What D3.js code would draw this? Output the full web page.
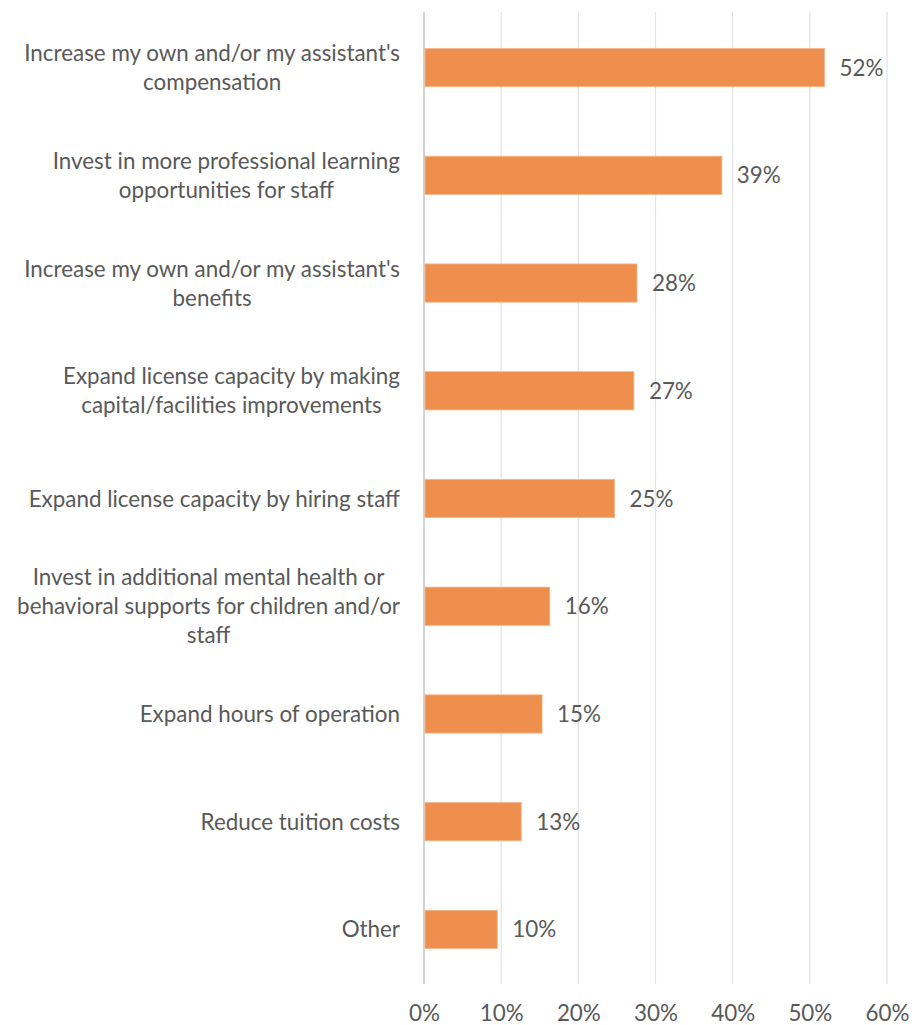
<!DOCTYPE html>
<html>
<head>
<meta charset="utf-8">
<script src="https://cdn.jsdelivr.net/npm/d3@7"></script>
<style>
  html, body { margin: 0; padding: 0; background: #fff; }
  svg { display: block; }
  text { font-family: Lato, "Open Sans", sans-serif; fill: #595959; }
</style>
</head>
<body>
<svg id="chart" width="924" height="1025"></svg>
<script>
// Survey answers: how funds would be used (share of respondents)
const categories = [
  ["Increase my own and/or my assistant's", "compensation"],
  ["Invest in more professional learning", "opportunities for staff"],
  ["Increase my own and/or my assistant's", "benefits"],
  ["Expand license capacity by making", "capital/facilities improvements"],
  ["Expand license capacity by hiring staff"],
  ["Invest in additional mental health or", "behavioral supports for children and/or", "staff"],
  ["Expand hours of operation"],
  ["Reduce tuition costs"],
  ["Other"]
];
const values = [0.519, 0.386, 0.276, 0.272, 0.247, 0.163, 0.153, 0.126, 0.095];
const tickValues = [0, 0.1, 0.2, 0.3, 0.4, 0.5, 0.6];

const fontSize = 22.4;
const svg = d3.select("#chart");
const margin = { left: 424, right: 37, top: 14, bottom: 42 };
const W = 924, H = 1025;

const x = d3.scaleLinear().domain([0, 0.6]).range([margin.left, W - margin.right]);
const y = d3.scaleBand()
  .domain(d3.range(categories.length))
  .range([margin.top, H - margin.bottom])
  .paddingInner(0.645)
  .paddingOuter(0.32);

// vertical gridlines
svg.append("g")
  .selectAll("line")
  .data(tickValues.slice(1))
  .join("line")
  .attr("x1", d => x(d)).attr("x2", d => x(d))
  .attr("y1", 12).attr("y2", 984)
  .attr("stroke", "#e4e4e4")
  .attr("stroke-width", 1.3);

// category axis line
svg.append("line")
  .attr("x1", x(0)).attr("x2", x(0))
  .attr("y1", 12).attr("y2", 984)
  .attr("stroke", "#c8c8c8")
  .attr("stroke-width", 1.6);

// bars
svg.append("g")
  .selectAll("rect")
  .data(values)
  .join("rect")
  .attr("x", x(0) + 1)
  .attr("y", (d, i) => y(i))
  .attr("width", d => x(d) - x(0) - 1)
  .attr("height", y.bandwidth())
  .attr("fill", "#ef8f4e")
  .attr("stroke", "#f6b58a")
  .attr("stroke-width", 0.8);

// value labels
const fmt = d3.format(".0%");
svg.append("g")
  .selectAll("text")
  .data(values)
  .join("text")
  .attr("x", d => x(d) + 15)
  .attr("y", (d, i) => y(i) + y.bandwidth() / 2)
  .attr("dy", "0.36em")
  .attr("font-size", fontSize)
  .text(d => fmt(d));

// x axis tick labels
const xAxis = d3.axisBottom(x).tickValues(tickValues).tickFormat(d3.format(".0%")).tickSize(0).tickPadding(0);
const gx = svg.append("g")
  .attr("transform", `translate(0, 1021)`)
  .call(xAxis);
gx.select(".domain").remove();
gx.selectAll("text")
  .attr("font-size", fontSize)
  .attr("font-family", "Lato, 'Open Sans', sans-serif")
  .attr("fill", "#595959")
  .attr("dy", 0);

// category labels: lines centred on each other, block right-aligned to the axis
const lineH = 29;
const labelRight = 400;
const labels = svg.append("g");
categories.forEach((lines, i) => {
  const cy = y(i) + y.bandwidth() / 2;
  const g = labels.append("g");
  const texts = lines.map((ln, k) =>
    g.append("text")
      .attr("font-size", fontSize)
      .attr("text-anchor", "middle")
      .attr("y", cy + (k - (lines.length - 1) / 2) * lineH)
      .attr("dy", "0.36em")
      .text(ln)
  );
  const maxW = d3.max(texts, t => t.node().getComputedTextLength());
  texts.forEach(t => t.attr("x", labelRight - maxW / 2));
});
</script>
</body>
</html>
